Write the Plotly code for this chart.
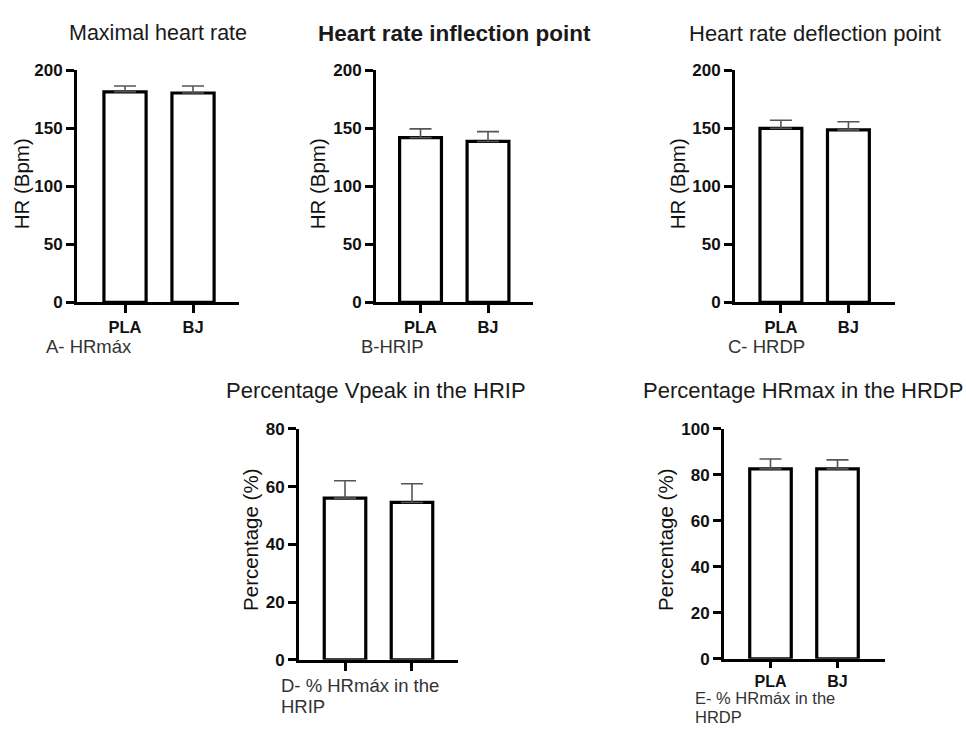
import plotly.graph_objects as go

W, H = 966, 736

groups = ["PLA", "BJ"]

hr_max_mean = [181.5, 180.5]
hr_max_sd = [5.0, 6.0]

hrip_mean = [142.0, 138.7]
hrip_sd = [7.5, 8.5]

hrdp_mean = [150.0, 148.7]
hrdp_sd = [7.0, 7.0]

pct_vpeak_hrip_mean = [56.0, 54.5]
pct_vpeak_hrip_sd = [6.0, 6.5]

pct_hrmax_hrdp_mean = [82.6, 82.6]
pct_hrmax_hrdp_sd = [4.3, 3.9]

titles = ["Maximal heart rate", "<b>Heart rate inflection point</b>", "Heart rate deflection point",
          "Percentage Vpeak in the HRIP", "Percentage HRmax in the HRDP"]
ytitles = ["HR (Bpm)", "HR (Bpm)", "HR (Bpm)", "Percentage (%)", "Percentage (%)"]
panel_labels = [["A- HRmáx"], ["B-HRIP"], ["C- HRDP"], ["D- % HRmáx in the", "HRIP"], ["E- % HRmáx in the", "HRDP"]]

FONT = "Liberation Sans, Arial, sans-serif"

panels = [
    dict(mean=hr_max_mean, sd=hr_max_sd, px=(77, 239), py=(63, 301), xr=(-0.706, 1.676), ymax=200, dt=50, xl=True,
         title=(158, 25), tsize=21.5, ytitle=(21, 180), label=(45, [346]), lsize=18.5, xts=16.5, xtl=8),
    dict(mean=hrip_mean, sd=hrip_sd, px=(376, 533), py=(63, 301), xr=(-0.66, 1.667), ymax=200, dt=50, xl=True,
         title=(454, 25), tsize=22.5, ytitle=(317, 180), label=(360, [346]), lsize=18.5, xts=16.5, xtl=8),
    dict(mean=hrdp_mean, sd=hrdp_sd, px=(735, 895), py=(63, 301), xr=(-0.68, 1.69), ymax=200, dt=50, xl=True,
         title=(815, 25), tsize=22, ytitle=(677, 180), label=(727, [346]), lsize=18.5, xts=16.5, xtl=8),
    dict(mean=pct_vpeak_hrip_mean, sd=pct_vpeak_hrip_sd, px=(299, 458), py=(431, 668), xr=(-0.687, 1.687), ymax=80, dt=20, xl=False,
         title=(376, 392), tsize=22, ytitle=(251, 545), label=(280, [694, 716]), lsize=18.5, xts=16.5, xtl=8),
    dict(mean=pct_hrmax_hrdp_mean, sd=pct_hrmax_hrdp_sd, px=(724, 885), py=(431, 667), xr=(-0.694, 1.709), ymax=100, dt=20, xl=True,
         title=(803, 392), tsize=22, ytitle=(666, 545), label=(694, [707, 727]), lsize=16.5, xts=16, xtl=6),
]

fig = go.Figure()
annotations = []
layout = {}

for i, p in enumerate(panels):
    n = "" if i == 0 else str(i + 1)
    xa, ya = "x" + n, "y" + n
    fig.add_trace(go.Bar(
        x=[0, 1], y=p["mean"], width=0.62,
        xaxis=xa, yaxis=ya,
        marker=dict(color="white", line=dict(color="black", width=3.2)),
        error_y=dict(type="data", symmetric=False, array=p["sd"], arrayminus=[0, 0],
                     color="#555555", thickness=1.6, width=11),
        showlegend=False, hoverinfo="skip",
    ))
    yvals = list(range(0, p["ymax"] + 1, p["dt"]))
    layout["xaxis" + n] = dict(
        domain=[p["px"][0] / W, p["px"][1] / W], anchor=ya, range=list(p["xr"]),
        showline=True, linecolor="black", linewidth=3,
        showgrid=False, zeroline=False,
        tickmode="array", tickvals=[0, 1],
        ticktext=["<b>%s</b>" % g for g in groups] if p["xl"] else ["", ""],
        ticks="outside", ticklen=p["xtl"], tickwidth=2.5, tickcolor="black",
        tickfont=dict(family=FONT, size=p["xts"], color="#111111"),
        fixedrange=True,
    )
    layout["yaxis" + n] = dict(
        domain=[1 - p["py"][1] / H, 1 - p["py"][0] / H], anchor=xa, range=[0, p["ymax"]],
        showline=True, linecolor="black", linewidth=3,
        showgrid=False, zeroline=False,
        tickmode="array", tickvals=yvals, ticktext=["<b>%d</b>" % v for v in yvals],
        ticks="outside", ticklen=8, tickwidth=2.5, tickcolor="black",
        tickfont=dict(family=FONT, size=17, color="#111111"),
        fixedrange=True,
    )
    annotations.append(dict(
        text=titles[i], x=p["title"][0] / W, y=1 - p["title"][1] / H, xref="paper", yref="paper",
        xanchor="center", yanchor="middle", showarrow=False,
        font=dict(family=FONT, size=p["tsize"], color="#1a1a1a")))
    annotations.append(dict(
        text=ytitles[i], x=p["ytitle"][0] / W, y=1 - p["ytitle"][1] / H, xref="paper", yref="paper",
        xanchor="center", yanchor="middle", showarrow=False, textangle=-90,
        font=dict(family=FONT, size=20.5, color="#111111")))
    for line, ly in zip(panel_labels[i], p["label"][1]):
        annotations.append(dict(
            text=line, x=p["label"][0] / W, y=1 - ly / H, xref="paper", yref="paper",
            xanchor="left", yanchor="middle", showarrow=False, align="left", borderpad=0,
            font=dict(family=FONT, size=p["lsize"], color="#333333")))

fig.update_layout(
    width=W, height=H, margin=dict(l=0, r=0, t=0, b=0),
    paper_bgcolor="white", plot_bgcolor="white",
    annotations=annotations,
    **layout,
)

fig.write_html("out.html", config={"displayModeBar": False},
               post_script="document.body.style.margin='0px';")
